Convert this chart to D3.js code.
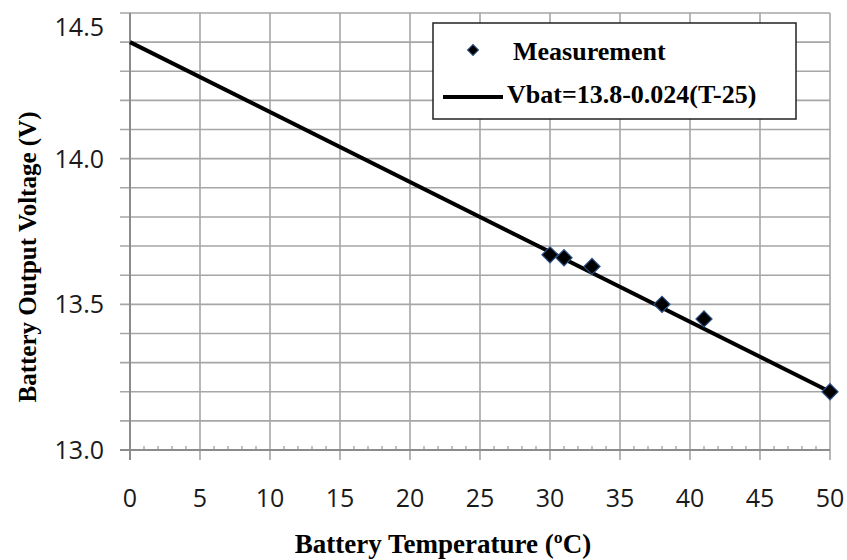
<!DOCTYPE html>
<html>
<head>
<meta charset="utf-8">
<script src="https://cdn.jsdelivr.net/npm/d3@7"></script>
<style>
  body { margin: 0; background: #fff; }
  svg { display: block; }
</style>
</head>
<body>
<div id="chart"></div>
<script>
// Measured points
const tempValues = [30, 31, 33, 38, 41, 50];
const voltValues = [13.67, 13.66, 13.63, 13.50, 13.45, 13.20];

// Fit line endpoints: Vbat = 13.8 - 0.024(T-25)
const fitTemps = [0, 50];
const fitLabel = "Vbat=13.8-0.024(T-25)";

const xTicks = [0, 5, 10, 15, 20, 25, 30, 35, 40, 45, 50];
const yTicks = [13.0, 13.5, 14.0, 14.5];
const yGrid = d3.range(130, 146).map(d => d / 10);
const xMinor = d3.range(0, 51);

const width = 847;
const height = 560;

const svg = d3.select("#chart")
  .append("svg")
  .attr("width", width)
  .attr("height", height);

const x = d3.scaleLinear().domain([0, 50]).range([130, 830]);
const y = d3.scaleLinear().domain([13.0, 14.5]).range([450, 13]);

const gridColor = "#a6a6a6";

// horizontal gridlines every 0.1 V, with little ticks on the left
svg.append("g")
  .selectAll("line")
  .data(yGrid)
  .join("line")
  .attr("x1", x(0) - 10)
  .attr("x2", x(50))
  .attr("y1", d => y(d))
  .attr("y2", d => y(d))
  .attr("stroke", gridColor)
  .attr("stroke-width", 1.6);

// vertical gridlines every 5
svg.append("g")
  .selectAll("line")
  .data(xTicks)
  .join("line")
  .attr("x1", d => x(d))
  .attr("x2", d => x(d))
  .attr("y1", y(14.5))
  .attr("y2", y(13.0) + 10)
  .attr("stroke", gridColor)
  .attr("stroke-width", 1.6);

// minor ticks on the x axis
svg.append("g")
  .selectAll("line")
  .data(xMinor.filter(d => d % 5 !== 0))
  .join("line")
  .attr("x1", d => x(d))
  .attr("x2", d => x(d))
  .attr("y1", y(13.0) - 4)
  .attr("y2", y(13.0))
  .attr("stroke", gridColor)
  .attr("stroke-width", 1.4);

// axis lines
svg.append("line")
  .attr("x1", x(0)).attr("x2", x(0))
  .attr("y1", y(14.5)).attr("y2", y(13.0) + 10)
  .attr("stroke", "#8c8c8c").attr("stroke-width", 2);
svg.append("line")
  .attr("x1", x(0) - 10).attr("x2", x(50))
  .attr("y1", y(13.0)).attr("y2", y(13.0))
  .attr("stroke", "#8c8c8c").attr("stroke-width", 2);

// tick labels (top one pushed down so it is not clipped, like the original)
svg.append("g")
  .selectAll("text")
  .data(yTicks)
  .join("text")
  .attr("x", 104)
  .attr("y", d => Math.max(y(d), 27))
  .attr("dy", "0.36em")
  .attr("text-anchor", "end")
  .attr("font-family", "'Open Sans', sans-serif")
  .attr("font-size", 25)
  .attr("fill", "#1a1a1a")
  .text(d => d.toFixed(1));

svg.append("g")
  .selectAll("text")
  .data(xTicks)
  .join("text")
  .attr("x", d => x(d))
  .attr("y", 498)
  .attr("dy", "0.36em")
  .attr("text-anchor", "middle")
  .attr("font-family", "'Open Sans', sans-serif")
  .attr("font-size", 25)
  .attr("fill", "#1a1a1a")
  .text(d => d);

// fit line
const line = d3.line()
  .x(d => x(d))
  .y(d => y(13.8 - 0.024 * (d - 25)));

svg.append("path")
  .datum(fitTemps)
  .attr("d", line)
  .attr("fill", "none")
  .attr("stroke", "#000")
  .attr("stroke-width", 4);

// measurement diamonds
const diamond = d3.symbol().type(d3.symbolSquare).size(130);
svg.append("g")
  .selectAll("path")
  .data(tempValues.map((t, i) => ({ t, v: voltValues[i] })))
  .join("path")
  .attr("d", diamond)
  .attr("transform", d => `translate(${x(d.t)},${y(d.v)}) rotate(45)`)
  .attr("fill", "#000")
  .attr("stroke", "#2a4f86")
  .attr("stroke-width", 1.2);

// legend
const legend = svg.append("g");
legend.append("rect")
  .attr("x", 433).attr("y", 23)
  .attr("width", 363).attr("height", 96)
  .attr("fill", "#fff")
  .attr("stroke", "#222")
  .attr("stroke-width", 1.5);

legend.append("path")
  .attr("d", d3.symbol().type(d3.symbolSquare).size(60))
  .attr("transform", "translate(473,50) rotate(45)")
  .attr("fill", "#000")
  .attr("stroke", "#2a4f86")
  .attr("stroke-width", 1);

legend.append("line")
  .attr("x1", 443).attr("x2", 503)
  .attr("y1", 97).attr("y2", 97)
  .attr("stroke", "#000")
  .attr("stroke-width", 4);

legend.append("text")
  .attr("x", 513).attr("y", 60)
  .attr("font-family", "'Liberation Serif', serif")
  .attr("font-weight", "bold")
  .attr("font-size", 26)
  .text("Measurement");

legend.append("text")
  .attr("x", 507).attr("y", 103)
  .attr("font-family", "'Liberation Serif', serif")
  .attr("font-weight", "bold")
  .attr("font-size", 26)
  .text(fitLabel);

// axis titles
svg.append("text")
  .attr("x", 443).attr("y", 553)
  .attr("text-anchor", "middle")
  .attr("font-family", "'Liberation Serif', serif")
  .attr("font-weight", "bold")
  .attr("font-size", 27)
  .text("Battery Temperature (ºC)");

svg.append("text")
  .attr("transform", "translate(36,257) rotate(-90)")
  .attr("text-anchor", "middle")
  .attr("font-family", "'Liberation Serif', serif")
  .attr("font-weight", "bold")
  .attr("font-size", 25)
  .text("Battery Output Voltage (V)");
</script>
</body>
</html>
